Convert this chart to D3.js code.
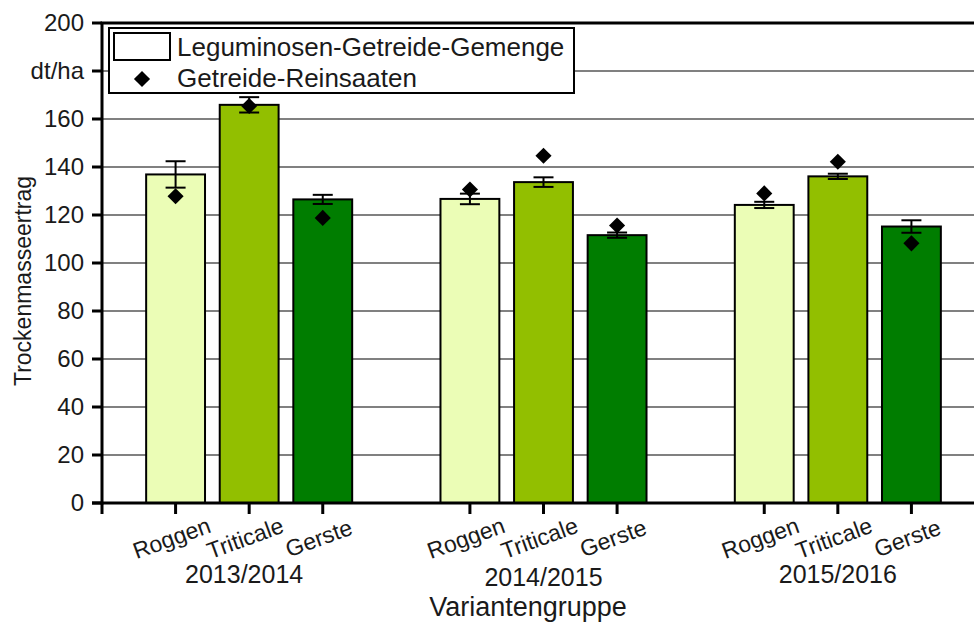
<!DOCTYPE html>
<html>
<head>
<meta charset="utf-8">
<script src="https://cdn.jsdelivr.net/npm/d3@7"></script>
<style>
    body { margin: 0; background: #fff; }
    svg { display: block; font-family: "Liberation Sans", Arial, sans-serif; }
</style>
</head>
<body>
<div id="main"></div>
<script>
// values (dt/ha)
const GROUPS = ["2013/2014", "2014/2015", "2015/2016"];
const CROPS = ["Roggen", "Triticale", "Gerste"];
const MIX_VALUES = [136.9, 165.9, 126.5, 126.7, 133.7, 111.6, 124.2, 136.1, 115.2];
const MIX_ERRORS = [5.5, 3.2, 1.9, 2.2, 2.0, 1.1, 1.3, 1.1, 2.6];
const PURE_VALUES = [127.8, 165.4, 118.8, 130.6, 144.7, 115.6, 129.0, 142.2, 108.2];
const Y_TICKS = [0, 20, 40, 60, 80, 100, 120, 140, 160, 180, 200];
const Y_TICK_LABELS = ["0", "20", "40", "60", "80", "100", "120", "140", "160", "dt/ha", "200"];
const LEGEND_LABELS = ["Leguminosen-Getreide-Gemenge", "Getreide-Reinsaaten"];
const X_TITLE = "Variantengruppe";
const Y_TITLE = "Trockenmasseertrag";

const ctx = {
    w: 974,
    h: 622,
    left: 102,
    top: 23,
    bottom: 503,
    right: 985,
    colors: ["#ebfdb6", "#92bf00", "#007d00"],
    grid: "#808080",
    textColor: "#1a1a1a",
    barFrac: 0.8,
};

function createViz() {
    let svgEl = d3.select("#main").append("svg")
        .attr("width", ctx.w)
        .attr("height", ctx.h);

    // slot positions: 3 bars per group, one empty slot between groups
    let records = [];
    GROUPS.forEach((g, gi) => {
        CROPS.forEach((c, ci) => {
            let k = gi * 3 + ci;
            records.push({
                group: g, crop: c, ci: ci, slot: gi * 4 + ci + 1,
                mix: MIX_VALUES[k], err: MIX_ERRORS[k], pure: PURE_VALUES[k]
            });
        });
    });

    let x = d3.scaleLinear().domain([0, 12]).range([ctx.left, ctx.right]);
    let y = d3.scaleLinear().domain([0, 200]).range([ctx.bottom, ctx.top]);
    let barW = (x(1) - x(0)) * ctx.barFrac;

    // grid lines
    svgEl.append("g").selectAll("line")
        .data(Y_TICKS.filter((d) => d > 0 && d < 200))
        .enter()
        .append("line")
        .attr("x1", ctx.left).attr("x2", ctx.w)
        .attr("y1", (d) => y(d)).attr("y2", (d) => y(d))
        .attr("stroke", ctx.grid)
        .attr("stroke-width", 2);

    // bars
    svgEl.append("g").selectAll("rect")
        .data(records)
        .enter()
        .append("rect")
        .attr("x", (d) => x(d.slot) - barW / 2)
        .attr("y", (d) => y(d.mix))
        .attr("width", barW)
        .attr("height", (d) => y(0) - y(d.mix))
        .attr("fill", (d) => ctx.colors[d.ci])
        .attr("stroke", "#000")
        .attr("stroke-width", 2);

    // error bars
    let errG = svgEl.append("g").attr("stroke", "#000").attr("stroke-width", 2);
    records.forEach((d) => {
        let cx = x(d.slot);
        errG.append("line")
            .attr("x1", cx).attr("x2", cx)
            .attr("y1", y(d.mix - d.err)).attr("y2", y(d.mix + d.err));
        [d.mix - d.err, d.mix + d.err].forEach((v) => {
            errG.append("line")
                .attr("x1", cx - 10).attr("x2", cx + 10)
                .attr("y1", y(v)).attr("y2", y(v));
        });
    });

    // diamonds for pure stands
    let diamond = d3.symbol().type(d3.symbolSquare).size(130);
    svgEl.append("g").selectAll("path")
        .data(records)
        .enter()
        .append("path")
        .attr("d", diamond)
        .attr("transform", (d) => `translate(${x(d.slot)},${y(d.pure)}) rotate(45)`)
        .attr("fill", "#000");

    // frame top
    svgEl.append("line")
        .attr("x1", ctx.left - 1.5).attr("x2", ctx.w)
        .attr("y1", ctx.top).attr("y2", ctx.top)
        .attr("stroke", "#000").attr("stroke-width", 3);

    // y axis
    let yAxis = svgEl.append("g");
    yAxis.append("line")
        .attr("x1", ctx.left).attr("x2", ctx.left)
        .attr("y1", ctx.top).attr("y2", ctx.bottom + 1.5)
        .attr("stroke", "#000").attr("stroke-width", 3);
    yAxis.selectAll(".tick")
        .data(Y_TICKS)
        .enter()
        .append("line")
        .attr("x1", ctx.left - 10).attr("x2", ctx.left)
        .attr("y1", (d) => y(d)).attr("y2", (d) => y(d))
        .attr("stroke", "#000").attr("stroke-width", 3);
    yAxis.selectAll("text")
        .data(Y_TICKS)
        .enter()
        .append("text")
        .attr("x", ctx.left - 18)
        .attr("y", (d) => y(d))
        .attr("dy", "0.35em")
        .attr("text-anchor", "end")
        .style("font-size", "24px")
        .style("fill", ctx.textColor)
        .text((d, i) => Y_TICK_LABELS[i]);

    // x axis
    let xAxis = svgEl.append("g");
    xAxis.append("line")
        .attr("x1", ctx.left - 10).attr("x2", ctx.w)
        .attr("y1", ctx.bottom).attr("y2", ctx.bottom)
        .attr("stroke", "#000").attr("stroke-width", 3);
    xAxis.selectAll("line.tick")
        .data([0].concat(records.map((d) => d.slot)))
        .enter()
        .append("line")
        .attr("class", "tick")
        .attr("x1", (d) => x(d)).attr("x2", (d) => x(d))
        .attr("y1", ctx.bottom).attr("y2", ctx.bottom + 11)
        .attr("stroke", "#000").attr("stroke-width", 3);
    xAxis.selectAll("text.crop")
        .data(records)
        .enter()
        .append("text")
        .attr("class", "crop")
        .attr("transform", (d) => `translate(${x(d.slot) - 4},${ctx.bottom + 35}) rotate(-20)`)
        .attr("text-anchor", "middle")
        .attr("dy", "0.35em")
        .style("font-size", "23px")
        .style("fill", ctx.textColor)
        .text((d) => d.crop);
    xAxis.selectAll("text.group")
        .data(GROUPS)
        .enter()
        .append("text")
        .attr("class", "group")
        .attr("x", (d, i) => x(i * 4 + 2) - (i === 0 ? 5 : 0))
        .attr("y", (d, i) => (i === 1 ? 586 : 583))
        .attr("text-anchor", "middle")
        .style("font-size", "25px")
        .style("fill", ctx.textColor)
        .text((d) => d);
    svgEl.append("text")
        .attr("x", 528)
        .attr("y", 616)
        .attr("text-anchor", "middle")
        .style("font-size", "27px")
        .style("fill", ctx.textColor)
        .text(X_TITLE);
    svgEl.append("text")
        .attr("transform", `translate(31,${(ctx.top + ctx.bottom) / 2 + 18}) rotate(-90)`)
        .attr("text-anchor", "middle")
        .style("font-size", "23px")
        .style("fill", ctx.textColor)
        .text(Y_TITLE);

    // legend
    let legendG = svgEl.append("g");
    legendG.append("rect")
        .attr("x", 109).attr("y", 28)
        .attr("width", 465).attr("height", 65)
        .attr("fill", "#fff")
        .attr("stroke", "#000").attr("stroke-width", 2);
    legendG.append("rect")
        .attr("x", 114).attr("y", 33)
        .attr("width", 56).attr("height", 27)
        .attr("fill", "#fff")
        .attr("stroke", "#000").attr("stroke-width", 2);
    legendG.append("path")
        .attr("d", diamond)
        .attr("transform", "translate(142,79) rotate(45)")
        .attr("fill", "#000");
    legendG.selectAll("text")
        .data(LEGEND_LABELS)
        .enter()
        .append("text")
        .attr("x", 177)
        .attr("y", (d, i) => 56 + i * 31)
        .style("font-size", "26px")
        .style("fill", ctx.textColor)
        .text((d) => d);
}

createViz();
</script>
</body>
</html>
